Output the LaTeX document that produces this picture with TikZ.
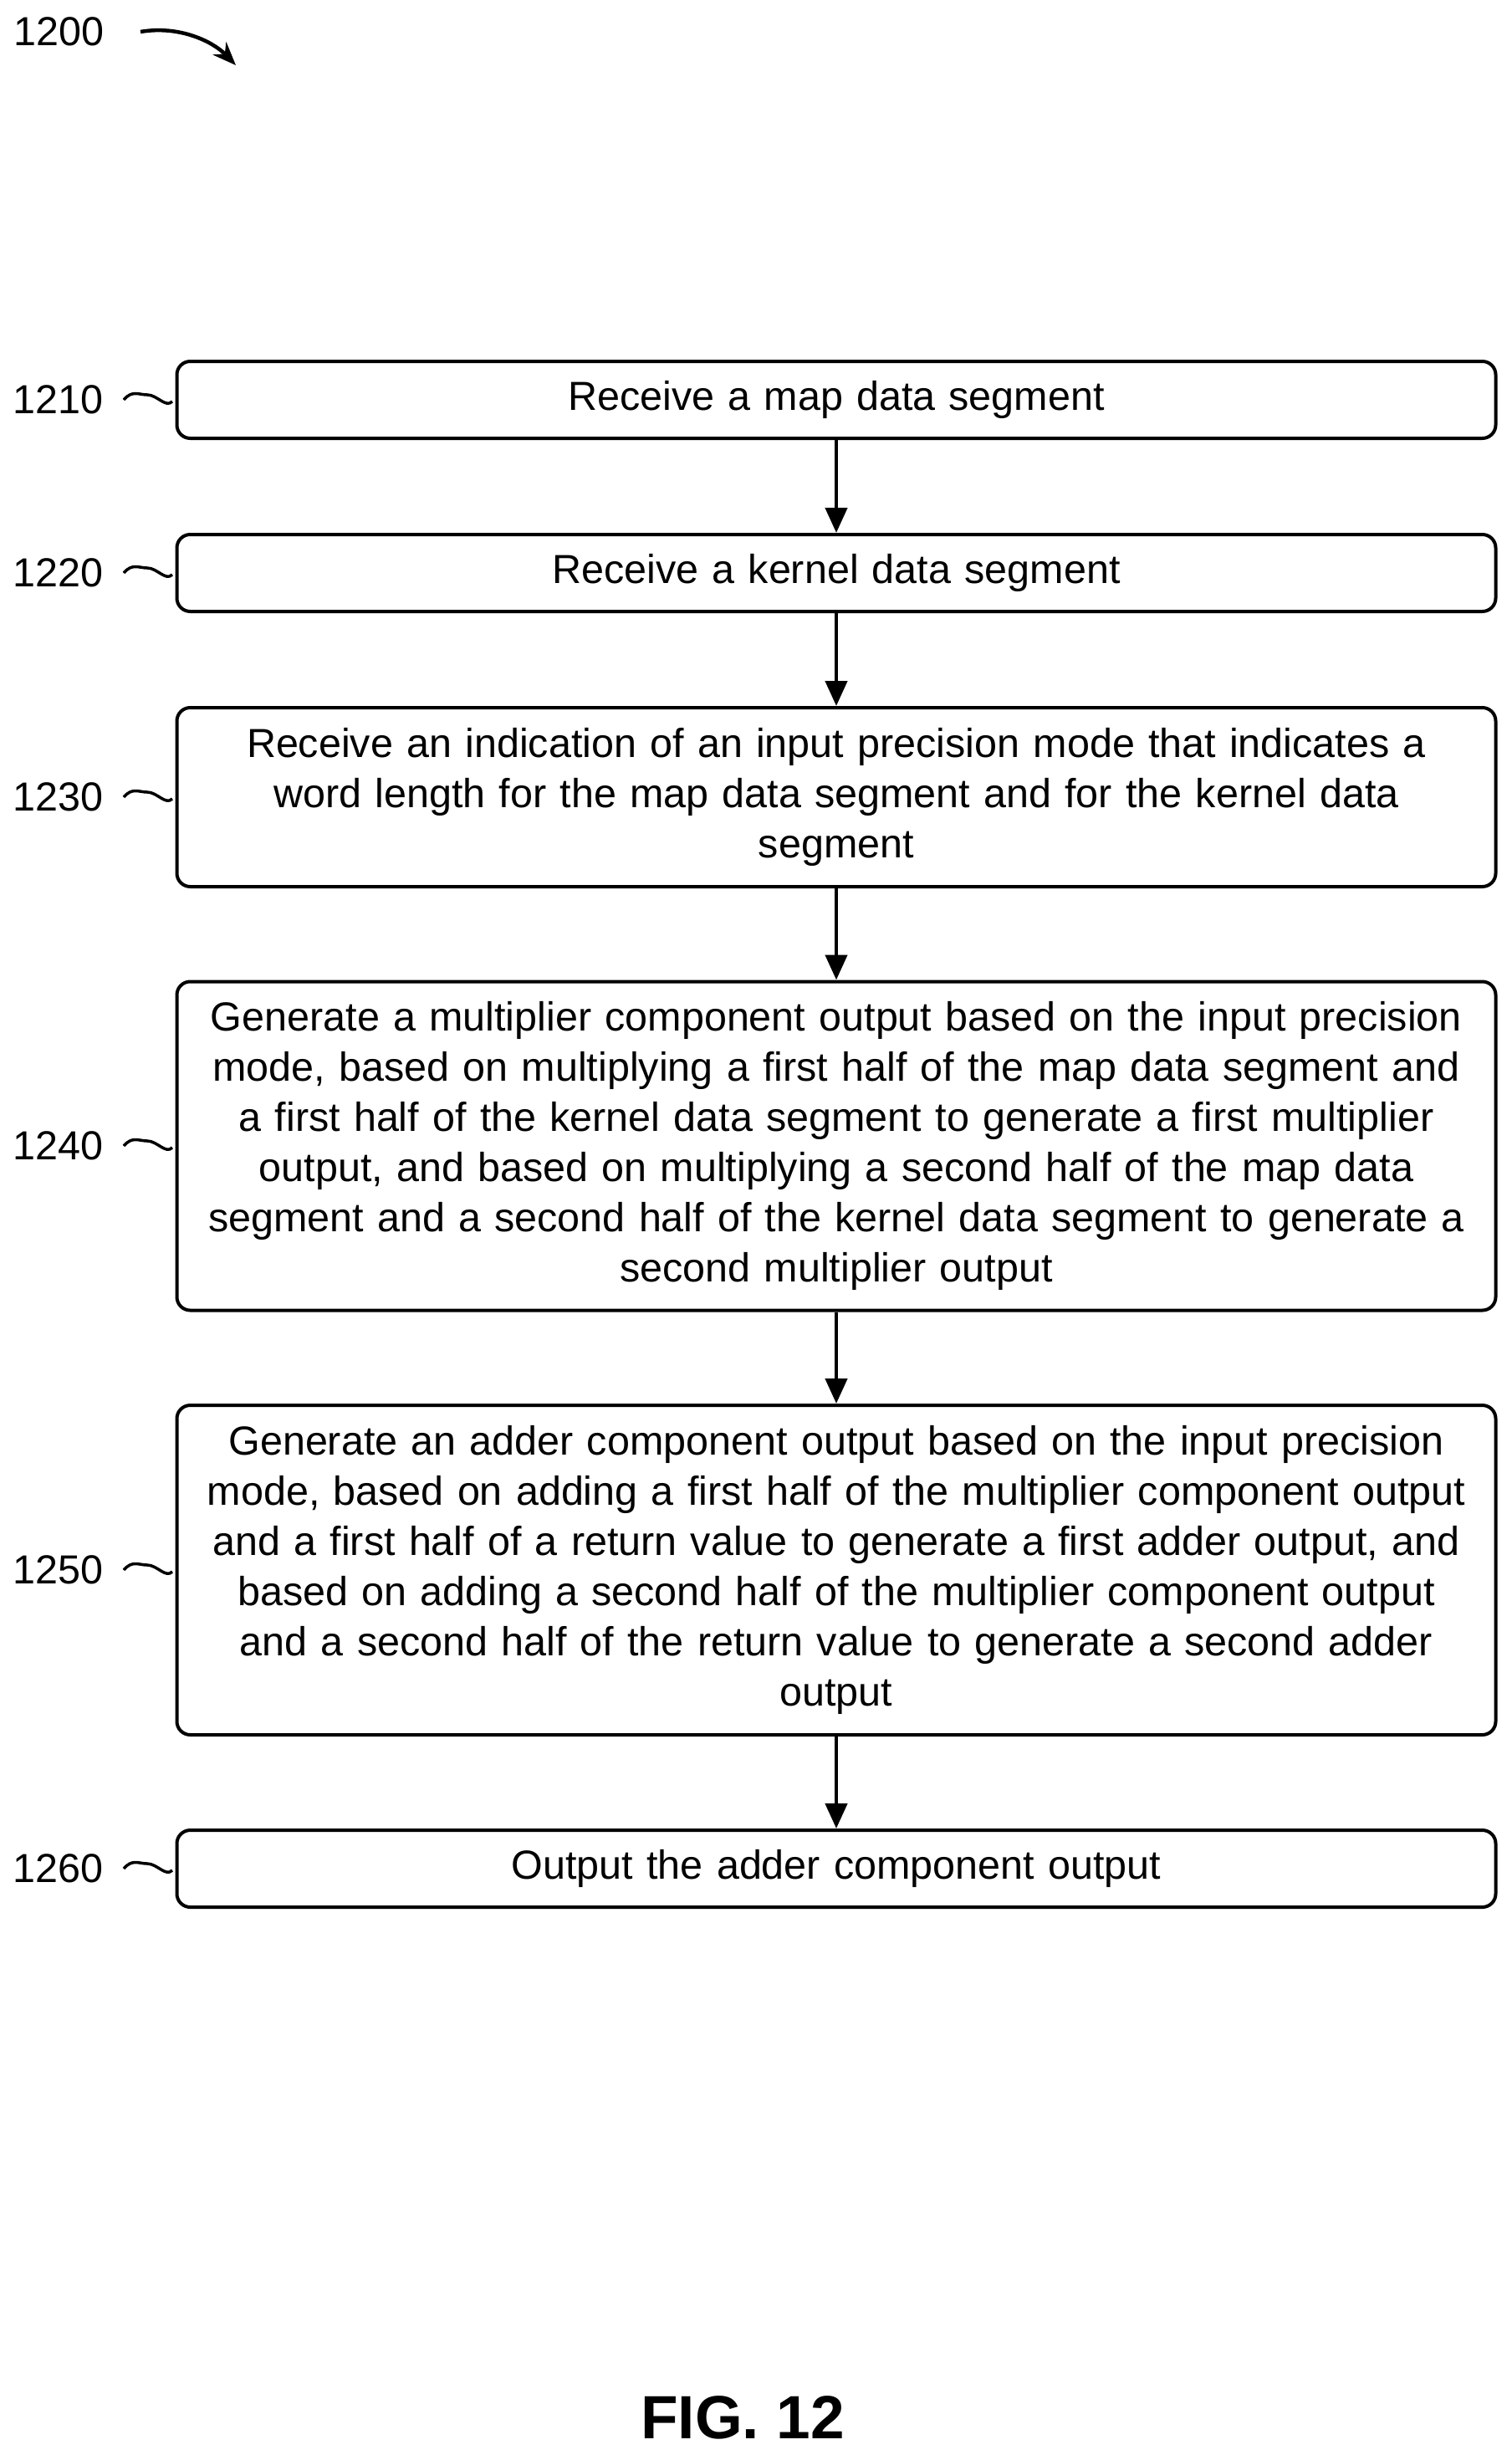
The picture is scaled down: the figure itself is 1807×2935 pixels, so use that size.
\documentclass[tikz,border=0pt]{standalone}
\usepackage{fontspec}
\setmainfont{Liberation Sans}
\usetikzlibrary{arrows.meta}
\begin{document}
\begin{tikzpicture}[x=1pt,y=-1pt,
  box/.style={draw,line width=4pt,rounded corners=16pt,inner sep=0pt,align=center,
    font=\fontsize{48.5}{60}\selectfont},
  lab/.style={anchor=west,font=\fontsize{48.5}{54}\selectfont,inner sep=0pt},
  arr/.style={line width=4.5pt,-{Triangle[length=30pt,width=26pt]}},
  squig/.style={line width=3.5pt}]
\useasboundingbox (0,0) rectangle (1807,2935);
\newcommand{\stepbox}[4]{%
  \node[box,minimum width=1577pt,minimum height=#3pt,text width=1560pt] (#1) at (1000,#2) {#4};}
\stepbox{b1}{478}{92}{Receive a map data segment}
\stepbox{b2}{685}{92}{Receive a kernel data segment}
\stepbox{b3}{953}{214}{Receive an indication of an input precision mode that indicates a\\word length for the map data segment and for the kernel data\\segment}
\stepbox{b4}{1370}{393}{Generate a multiplier component output based on the input precision\\mode, based on multiplying a first half of the map data segment and\\a first half of the kernel data segment to generate a first multiplier\\output, and based on multiplying a second half of the map data\\segment and a second half of the kernel data segment to generate a\\second multiplier output}
\stepbox{b5}{1877}{394}{Generate an adder component output based on the input precision\\mode, based on adding a first half of the multiplier component output\\and a first half of a return value to generate a first adder output, and\\based on adding a second half of the multiplier component output\\and a second half of the return value to generate a second adder\\output}
\stepbox{b6}{2234}{92}{Output the adder component output}
\foreach \a/\b in {b1/b2,b2/b3,b3/b4,b4/b5,b5/b6} \draw[arr] (\a.south) -- (\b.north);
\foreach \n/\t in {b1/1210,b2/1220,b3/1230,b4/1240,b5/1250,b6/1260}{
  \node[lab] (l\n) at (15,0 |- \n.west) {\t};
  \coordinate (s\n) at (148,0 |- \n.west);
  \draw[squig] (s\n) .. controls +(10,-12) and +(-10,0) .. +(28,-6) .. controls +(12,0) and +(-8,8) .. +(58,2);
}
\node[lab] (l1200) at (16,38) {1200};
\coordinate (a0) at (168,38);
\coordinate (a1) at (282,78);
\draw[line width=4.5pt,-{Stealth[length=28pt,width=22pt]}] (a0) .. controls (215,30) and (255,50) .. (a1);
\node[font=\bfseries\fontsize{73}{80}\selectfont,inner sep=0pt] (fig) at (888,2890) {FIG. 12};
\end{tikzpicture}
\end{document}
